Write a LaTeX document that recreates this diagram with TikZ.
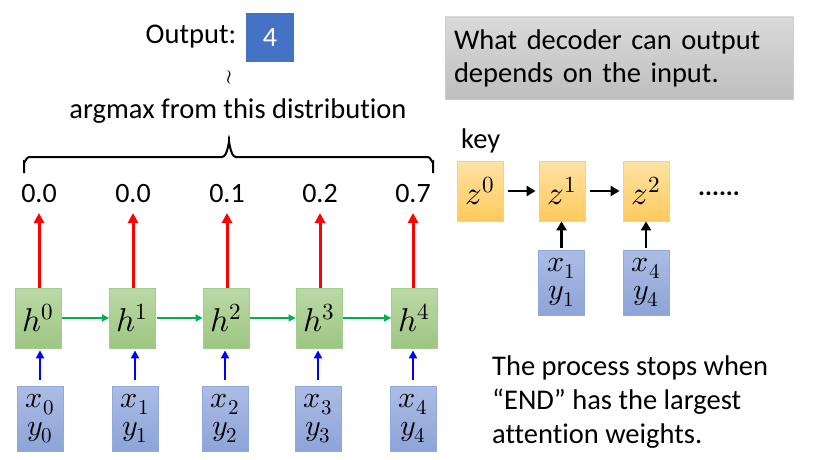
\documentclass[tikz,border=0pt]{standalone}
\usepackage{fontspec}
\setmainfont{Carlito}[Ligatures=NoCommon]
\usepackage{unicode-math}
\usetikzlibrary{arrows.meta, positioning}
\definecolor{hgreentop}{RGB}{186,217,166}
\definecolor{hgreenbot}{RGB}{158,198,130}
\definecolor{hgreenedge}{RGB}{160,206,140}
\definecolor{inbluetop}{RGB}{172,188,228}
\definecolor{inbluebot}{RGB}{141,164,216}
\definecolor{inblueedge}{RGB}{143,170,220}
\definecolor{zorangetop}{RGB}{255,226,164}
\definecolor{zorangebot}{RGB}{255,202,92}
\definecolor{zorangeedge}{RGB}{255,208,110}
\definecolor{notegraytop}{RGB}{218,218,218}
\definecolor{notegraybot}{RGB}{190,190,190}
\definecolor{notegrayedge}{RGB}{206,206,206}
\definecolor{outblue}{RGB}{68,114,196}
\definecolor{flowgreen}{RGB}{0,176,80}
\tikzset{hiddennode/.style={rectangle, top color=hgreentop, bottom color=hgreenbot, draw=hgreenedge, line width=0.8pt, minimum width=46pt, minimum height=60pt, inner sep=0pt, font=\fontsize{33}{33}\selectfont},
inputnode/.style={rectangle, top color=inbluetop, bottom color=inbluebot, draw=inblueedge, line width=0.8pt, minimum width=46pt, minimum height=65pt, inner sep=0pt, align=center, font=\fontsize{30}{28}\selectfont},
keynode/.style={rectangle, top color=zorangetop, bottom color=zorangebot, draw=zorangeedge, line width=0.8pt, minimum width=46pt, minimum height=60pt, inner sep=0pt, font=\fontsize{33}{33}\selectfont},
probnode/.style={inner sep=0pt, anchor=south, font=\fontsize{28}{28}\selectfont},
plaintext/.style={inner sep=0pt, font=\fontsize{28.5}{34}\selectfont}}

\begin{document}
\begin{tikzpicture}[
                x=1pt, y=-1pt,
                redarrow/.style={red, line width=3pt, -{Triangle[length=10pt, width=10pt]}},
                bluearrow/.style={blue, line width=2.2pt, -{Triangle[length=8pt, width=8pt]}},
                greenarrow/.style={flowgreen, line width=2pt, -{Triangle[length=7pt, width=7pt]}},
                blackarrow/.style={black, line width=2.6pt, -{Triangle[length=9pt, width=10pt]}}
            ]
                \useasboundingbox (0, 0) rectangle (817, 460);

                % Output and distribution
                \node[plaintext] (outlabel) at (191, 37) {Output:};
                \node[rectangle, fill=outblue, minimum width=48pt, minimum height=49pt, inner sep=0pt, text=white, font=\fontsize{28}{28}\selectfont] (outbox) at (270, 37.5) {4};
                \node[inner sep=0pt, font=\fontsize{20}{20}\selectfont] (approx) at (229, 78) {$\wr$};
                \node[plaintext] (argmax) at (238, 111) {argmax from this distribution};
                \draw[line width=2pt] (24, 173) -- (24, 162) to[out=-90, in=180] (29, 157) -- (222, 157) to[out=0, in=90] (229, 143) to[out=90, in=180] (236, 157) -- (428, 157) to[out=0, in=-90] (433, 162) -- (433, 173);

                % Hidden states
                \foreach \i/\hx/\px/\ix/\pr in {0/38/39/40/0.0, 1/132.5/133/135/0.0, 2/226/227/225/0.1, 3/319/320/318/0.2, 4/414.5/413/413/0.7} {
\node[hiddennode] (h\i) at (\hx, 318) {$h^{\i}$};
\node[probnode] (p\i) at (\px, 203) {\pr};
\node[inputnode] (in\i) at (\ix, 418.5) {$x_{\i}$\\$y_{\i}$};
\draw[redarrow] (p\i.south |- h\i.north) -- (p\i.south) [shorten >=10pt];
\draw[bluearrow, shorten <=6pt, shorten >=2pt] (in\i.north) -- (in\i.north |- h\i.south);
}
                \foreach \i/\j in {0/1, 1/2, 2/3, 3/4} {
\draw[greenarrow, shorten <=1pt] (h\i.east) -- (h\j.west);
}

                % Note
                \node[rectangle, top color=notegraytop, bottom color=notegraybot, draw=notegrayedge, line width=0.8pt, minimum width=348pt, minimum height=82pt, text width=330pt, inner sep=9pt, align=left, font=\fontsize{28.5}{33}\selectfont] (note) at (619, 58) {What decoder can output\\depends on the input.};

                % Keys
                \node[plaintext, anchor=south west] (keylabel) at (461, 153) {key};
                \node[keynode] (z0) at (480, 191) {$z^{0}$};
                \node[keynode] (z1) at (562, 191) {$z^{1}$};
                \node[keynode] (z2) at (646, 191) {$z^{2}$};
                \node[inner sep=0pt, font=\bfseries\fontsize{26}{26}\selectfont] (zdots) at (719, 194) {......};
                \node[inputnode] (k1) at (561.5, 282.5) {$x_{1}$\\$y_{1}$};
                \node[inputnode] (k4) at (646, 282.5) {$x_{4}$\\$y_{4}$};
                \draw[blackarrow, shorten <=5pt, shorten >=3pt] (z0.east) -- (z1.west);
                \draw[blackarrow, shorten <=5pt, shorten >=3pt] (z1.east) -- (z2.west);
                \draw[blackarrow, shorten <=2pt] (k1.north) -- (k1.north |- z1.south);
                \draw[blackarrow, shorten <=2pt] (k4.north) -- (k4.north |- z2.south);

                % Stop condition
                \node[plaintext, anchor=north west, align=left, font=\fontsize{28.5}{34}\selectfont] (stoptext) at (492, 356) {The process stops when\\“END” has the largest\\attention weights.};
            \end{tikzpicture}
\end{document}
